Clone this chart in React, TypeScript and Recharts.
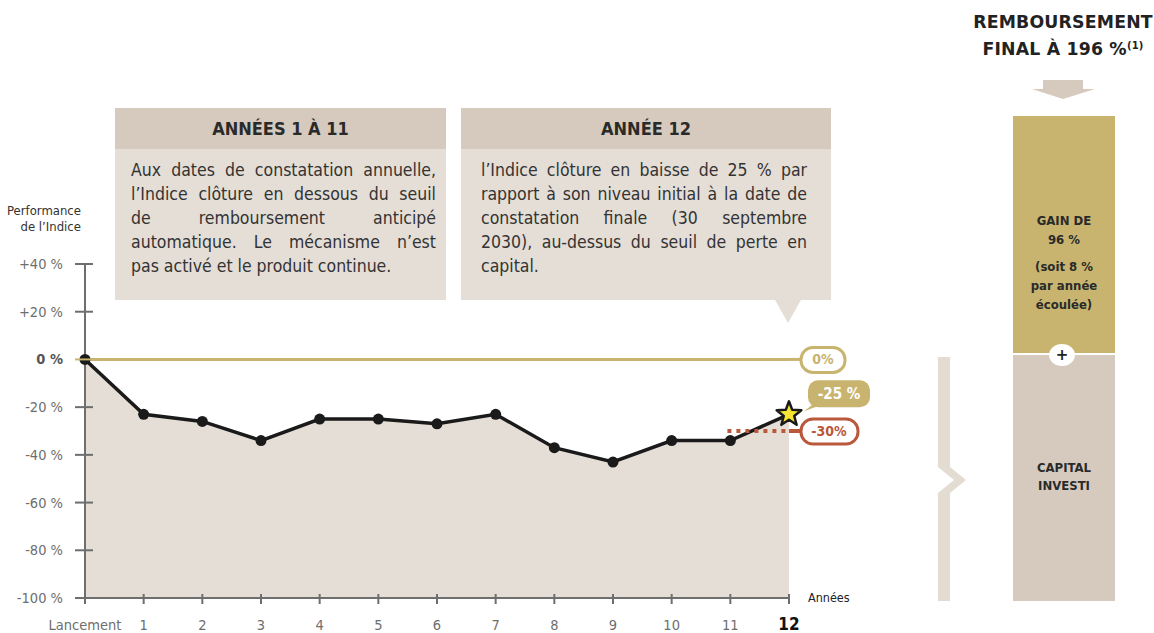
import React from "react";
import { ComposedChart, Area, XAxis, YAxis, ReferenceLine } from "recharts";

// Années d'observation et performance de l'Indice (en %)
const years = [0, 1, 2, 3, 4, 5, 6, 7, 8, 9, 10, 11, 12];
const performance = [0, -23, -26, -34, -25, -25, -27, -23, -37, -43, -34, -34, -23];
const xTickLabels = ["Lancement", "1", "2", "3", "4", "5", "6", "7", "8", "9", "10", "11", "12"];
const yTicks = [40, 20, 0, -20, -40, -60, -80, -100];
const yTickLabels = ["+40 %", "+20 %", "0 %", "-20 %", "-40 %", "-60 %", "-80 %", "-100 %"];
const finalLabel = "-25 %";
const zeroLabel = "0%";
const barrierLabel = "-30%";
const barrierLevel = -30;
const barrierStart = 10.95;

const box1Lines = [
  "Aux dates de constatation annuelle,",
  "l’Indice clôture en dessous du seuil",
  "de remboursement anticipé",
  "automatique. Le mécanisme n’est",
  "pas activé et le produit continue.",
];
const box2Lines = [
  "l’Indice clôture en baisse de 25 % par",
  "rapport à son niveau initial à la date de",
  "constatation finale (30 septembre",
  "2030), au-dessus du seuil de perte en",
  "capital.",
];

const data = years.map((year, i) => ({ year, perf: performance[i] }));

const FONT = "'DejaVu Sans Condensed', 'DejaVu Sans', sans-serif";
const GOLD = "#c8b46e";
const RED = "#b9583b";
const LIGHT = "#e5ded6";
const DARK_BEIGE = "#d5cabd";
const AXIS = "#6e6e6e";

const YTick = (props: any) => {
  const { x, y, payload } = props;
  const i = yTicks.indexOf(payload.value);
  const isZero = payload.value === 0;
  return (
    <g>
      <line x1={x + 12} x2={x + 30} y1={y} y2={y} stroke={isZero ? GOLD : AXIS} strokeWidth={2} />
      <text
        x={x}
        y={y}
        dy={5}
        textAnchor="end"
        fontFamily={FONT}
        fontSize={14.5}
        fontWeight={isZero ? 700 : 400}
        fill={isZero ? "#555" : AXIS}
      >
        {yTickLabels[i]}
      </text>
    </g>
  );
};

const XTick = (props: any) => {
  const { x, y, payload } = props;
  const last = payload.value === 12;
  return (
    <g>
      <line x1={x} x2={x} y1={y - 20} y2={y - 10} stroke={AXIS} strokeWidth={2} />
      <text
        x={x}
        y={y + 16}
        textAnchor="middle"
        fontFamily={FONT}
        fontSize={last ? 17 : 14.5}
        fontWeight={last ? 700 : 400}
        fill={last ? "#111" : AXIS}
      >
        {xTickLabels[payload.value]}
      </text>
    </g>
  );
};

const starPoints = (cx: number, cy: number, outer: number, inner: number) => {
  const pts: string[] = [];
  for (let k = 0; k < 10; k++) {
    const r = k % 2 === 0 ? outer : inner;
    const a = -Math.PI / 2 + (k * Math.PI) / 5;
    pts.push(`${cx + r * Math.cos(a)},${cy + r * Math.sin(a)}`);
  }
  return pts.join(" ");
};

const Dot = (props: any) => {
  const { cx, cy, index } = props;
  if (index === years.length - 1) {
    return (
      <g key={`d${index}`}>
        <polygon points={starPoints(cx, cy, 13, 5.5)} fill="#f6e633" stroke="#1a1a1a" strokeWidth={2.5} strokeLinejoin="round" />
        <path
          d={`M${cx + 24},${cy - 10} L${cx + 34},${cy - 10} L${cx + 15},${cy - 3} Z`}
          fill={GOLD}
        />
        <rect x={cx + 19} y={cy - 34} width={62} height={27} rx={10} fill={GOLD} />
        <text x={cx + 50} y={cy - 15} textAnchor="middle" fontFamily={FONT} fontSize={15} fontWeight={700} fill="#fff">
          {finalLabel}
        </text>
      </g>
    );
  }
  return <circle key={`d${index}`} cx={cx} cy={cy} r={5.5} fill="#1a1a1a" />;
};

const ZeroTag = (props: any) => {
  const vb = props.viewBox || {};
  const xe = vb.x + vb.width;
  const y = vb.y;
  return (
    <g>
      <line x1={xe} x2={xe + 12} y1={y} y2={y} stroke={GOLD} strokeWidth={3} />
      <rect x={xe + 12} y={y - 12} width={44} height={25} rx={12} fill="#fff" stroke={GOLD} strokeWidth={3} />
      <text x={xe + 34} y={y + 5} textAnchor="middle" fontFamily={FONT} fontSize={14} fontWeight={700} fill={GOLD}>
        {zeroLabel}
      </text>
    </g>
  );
};

const BarrierTag = (props: any) => {
  const vb = props.viewBox || {};
  const xe = vb.x + vb.width;
  const y = vb.y;
  return (
    <g>
      <line x1={xe} x2={xe + 12} y1={y} y2={y} stroke={RED} strokeWidth={4} />
      <rect x={xe + 12} y={y - 12} width={57} height={25} rx={12} fill="#fff" stroke={RED} strokeWidth={3} />
      <text x={xe + 40} y={y + 5} textAnchor="middle" fontFamily={FONT} fontSize={14} fontWeight={700} fill={RED}>
        {barrierLabel}
      </text>
    </g>
  );
};

const TextBox = ({ left, width, title, lines, padL, padR }: any) => (
  <div style={{ position: "absolute", left, top: 108, width, height: 192, background: LIGHT }}>
    <div
      style={{
        height: 41,
        background: DARK_BEIGE,
        display: "flex",
        alignItems: "center",
        justifyContent: "center",
        fontFamily: FONT,
        fontWeight: 700,
        fontSize: 18,
        color: "#2a2a2a",
      }}
    >
      {title}
    </div>
    <div style={{ padding: `9px ${padR}px 0 ${padL}px`, fontFamily: FONT, fontSize: 17.5, lineHeight: "24px", color: "#333" }}>
      {lines.map((l: string, i: number) => (
        <div
          key={i}
          style={{ textAlign: "justify", textAlignLast: i === lines.length - 1 ? "left" : "justify", whiteSpace: "nowrap" } as any}
        >
          {l}
        </div>
      ))}
    </div>
  </div>
);

const App = () => {
  return (
    <div style={{ position: "absolute", left: 0, top: 0, width: 1154, height: 633, background: "#fff", overflow: "hidden" }}>
      <ComposedChart width={1154} height={633} data={data} margin={{ top: 264, right: 365, bottom: 0, left: 0 }}>
        <XAxis
          dataKey="year"
          type="number"
          domain={[0, 12]}
          ticks={years}
          interval={0}
          height={35}
          tickSize={6}
          tickMargin={10}
          axisLine={{ stroke: AXIS, strokeWidth: 2 }}
          tickLine={false}
          tick={<XTick />}
        />
        <YAxis
          type="number"
          domain={[-100, 40]}
          ticks={yTicks}
          interval={0}
          width={85}
          tickSize={10}
          tickMargin={12}
          axisLine={{ stroke: AXIS, strokeWidth: 2 }}
          tickLine={false}
          tick={<YTick />}
        />
        <Area
          dataKey="perf"
          type="linear"
          baseValue="dataMin"
          stroke="none"
          fill={LIGHT}
          fillOpacity={1}
          dot={false}
          activeDot={false}
          isAnimationActive={false}
        />
        <ReferenceLine y={0} stroke={GOLD} strokeWidth={3} label={(p: any) => <ZeroTag {...p} />} />
        <ReferenceLine
          segment={[
            { x: barrierStart, y: barrierLevel },
            { x: 12, y: barrierLevel },
          ]}
          stroke={RED}
          strokeWidth={4}
          strokeDasharray="4 5"
          label={(p: any) => <BarrierTag {...p} />}
        />
        <Area
          dataKey="perf"
          type="linear"
          baseValue="dataMin"
          stroke="#1a1a1a"
          strokeWidth={3.5}
          fill="none"
          dot={(p: any) => <Dot {...p} />}
          activeDot={false}
          isAnimationActive={false}
        />
      </ComposedChart>

      <div style={{ position: "absolute", right: 1154 - 81, top: 203, textAlign: "right", fontFamily: FONT, fontSize: 13, lineHeight: "16px", color: "#333", whiteSpace: "nowrap" }}>
        Performance
        <br />
        de l’Indice
      </div>
      <div style={{ position: "absolute", left: 808, top: 590, fontFamily: FONT, fontSize: 12.5, color: "#222" }}>Années</div>

      <TextBox left={115} width={331} title="ANNÉES 1 À 11" lines={box1Lines} padL={16} padR={10} />
      <TextBox left={461} width={370} title="ANNÉE 12" lines={box2Lines} padL={20} padR={24} />

      <svg style={{ position: "absolute", left: 0, top: 0 }} width={1154} height={633}>
        <polygon points="775,300 801,300 788,323" fill={LIGHT} />
        <polygon points="938,357 950,357 950,467 966,480 950,493 950,601 938,601 938,493 954,480 938,467" fill="#e3dcd3" />
        <rect x={1043} y={80} width={40} height={9} fill={DARK_BEIGE} />
        <polygon points="1032,89 1095,89 1063,99" fill={DARK_BEIGE} />
        <rect x={1013} y={116} width={102} height={237} fill={GOLD} />
        <rect x={1013} y={355} width={102} height={246} fill={DARK_BEIGE} />
        <ellipse cx={1062} cy={355} rx={13} ry={11} fill="#fff" />
        <text x={1062} y={360} textAnchor="middle" fontFamily="DejaVu Sans" fontWeight={700} fontSize={15} fill="#222">
          +
        </text>
      </svg>

      <div style={{ position: "absolute", left: 960, width: 206, top: 10, textAlign: "center", fontFamily: "'DejaVu Sans', sans-serif", fontWeight: 700, fontSize: 17.3, lineHeight: "24px", color: "#222", letterSpacing: 0.2 }}>
        REMBOURSEMENT
        <br />
        FINAL À 196 %<span style={{ fontSize: 10, verticalAlign: "6px" }}>(1)</span>
      </div>
      <div style={{ position: "absolute", left: 1013, width: 102, top: 211, textAlign: "center", fontFamily: FONT, fontWeight: 700, fontSize: 13, lineHeight: "19px", color: "#2a2a2a" }}>
        GAIN DE
        <br />
        96 %
        <div style={{ height: 8 }} />
        (soit 8 %
        <br />
        par année
        <br />
        écoulée)
      </div>
      <div style={{ position: "absolute", left: 1013, width: 102, top: 459, textAlign: "center", fontFamily: FONT, fontWeight: 700, fontSize: 13, lineHeight: "18px", color: "#2a2a2a" }}>
        CAPITAL
        <br />
        INVESTI
      </div>
    </div>
  );
};

export default App;
